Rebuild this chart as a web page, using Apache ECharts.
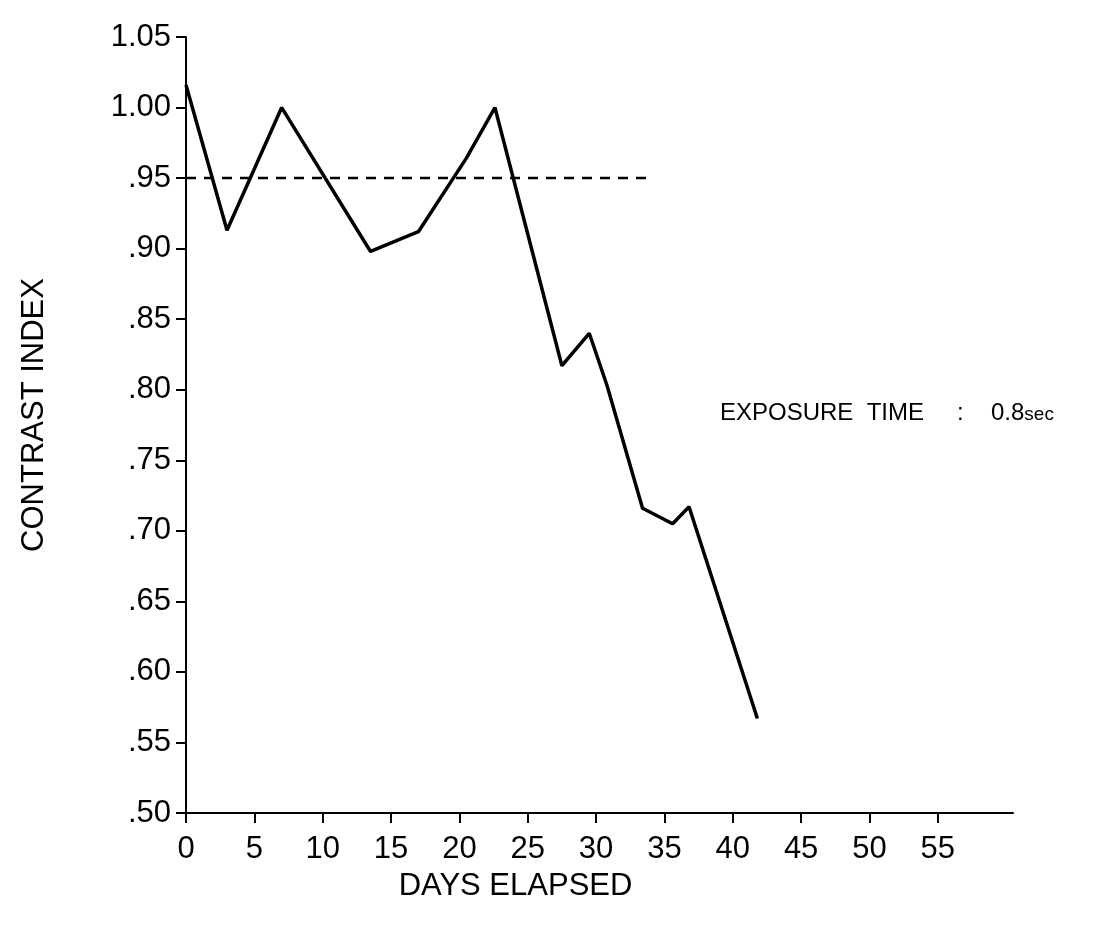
<!DOCTYPE html>
<html>
<head>
<meta charset="utf-8">
<script src="https://cdn.jsdelivr.net/npm/echarts@6/dist/echarts.min.js"></script>
<style>
  html, body { margin: 0; padding: 0; background: #fff; }
  #chart { width: 1095px; height: 933px; }
</style>
</head>
<body>
<div id="chart"></div>
<script>
// ---- data ----
const days = [0, 3, 7, 13.5, 17, 20.5, 22.6, 27.5, 29.5, 30.8, 33.4, 35.6, 36.8, 41.8];
const contrastIndex = [1.016, 0.913, 1.0, 0.898, 0.912, 0.964, 1.0, 0.817, 0.84, 0.803, 0.716, 0.705, 0.717, 0.567];
const refDays = [0, 33.8];
const refLevel = 0.95;
const xTickValues = [0, 5, 10, 15, 20, 25, 30, 35, 40, 45, 50, 55];
const yMin = 0.50, yMax = 1.05, yStep = 0.05;
const xMin = 0, xMax = 60.5;
const annotationLabel = 'EXPOSURE  TIME';
const annotationValue = '0.8';
const annotationUnit = 'sec';

const FONT = 'Liberation Sans';
const chart = echarts.init(document.getElementById('chart'), null, { renderer: 'canvas' });

chart.setOption({
  backgroundColor: '#ffffff',
  animation: false,
  grid: { left: 186, right: 82, top: 37, bottom: 120, containLabel: false },
  xAxis: {
    type: 'value',
    min: xMin, max: xMax, interval: 5,
    name: 'DAYS ELAPSED',
    nameLocation: 'middle',
    nameGap: 58,
    nameTextStyle: { fontFamily: FONT, fontSize: 31, color: '#000', padding: [0, 168, 0, 0] },
    axisLine: { onZero: false, lineStyle: { color: '#000', width: 2 } },
    axisTick: { show: true, length: 10, customValues: xTickValues, lineStyle: { color: '#000', width: 2 } },
    axisLabel: { customValues: xTickValues, margin: 21, fontFamily: FONT, fontSize: 31, color: '#000' },
    splitLine: { show: false }
  },
  yAxis: {
    type: 'value',
    min: yMin, max: yMax, interval: yStep,
    name: 'CONTRAST INDEX',
    nameLocation: 'middle',
    nameGap: 136,
    nameRotate: 90,
    nameTextStyle: { fontFamily: FONT, fontSize: 31, color: '#000', padding: [0, 0, 0, 20] },
    axisLine: { onZero: false, lineStyle: { color: '#000', width: 2 } },
    axisTick: { show: true, length: 10, lineStyle: { color: '#000', width: 2 } },
    axisLabel: {
      margin: 15, fontFamily: FONT, fontSize: 31, color: '#000',
      formatter: v => (Math.round(v * 100) / 100).toFixed(2).replace(/^0/, '')
    },
    splitLine: { show: false }
  },
  graphic: [
    { type: 'text', left: 720, top: 401, style: { text: annotationLabel, fontFamily: FONT, fontSize: 24, fill: '#000' } },
    { type: 'text', left: 957, top: 401, style: { text: ':', fontFamily: FONT, fontSize: 24, fill: '#000' } },
    { type: 'text', left: 991, top: 401, style: {
        text: '{v|' + annotationValue + '}{u|' + annotationUnit + '}',
        rich: {
          v: { fontFamily: FONT, fontSize: 24, fill: '#000', color: '#000' },
          u: { fontFamily: FONT, fontSize: 19, fill: '#000', color: '#000', padding: [4, 0, 0, 0] }
        }
      } }
  ],
  series: [
    {
      type: 'line',
      data: days.map((d, i) => [d, contrastIndex[i]]),
      showSymbol: false,
      lineStyle: { color: '#000', width: 3.5 },
      z: 3
    },
    {
      type: 'line',
      data: refDays.map(d => [d, refLevel]),
      showSymbol: false,
      lineStyle: { color: '#000', width: 2.5, type: [10, 8] },
      z: 2
    }
  ]
});
</script>
</body>
</html>
